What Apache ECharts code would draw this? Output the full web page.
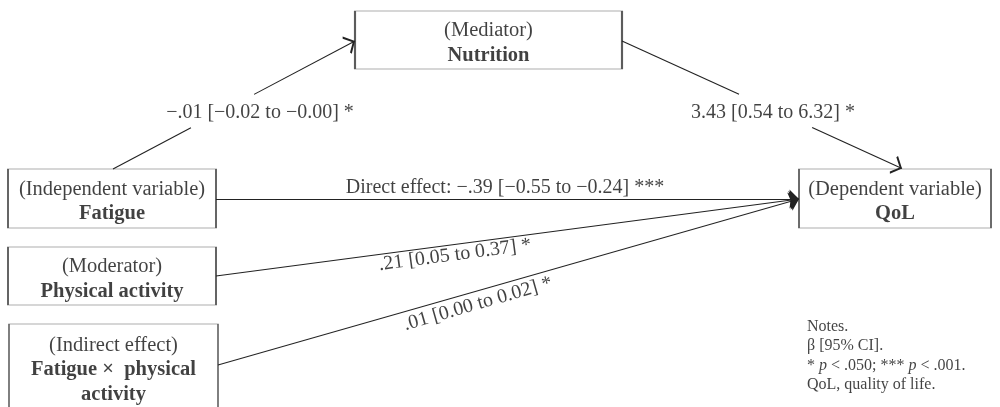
<!DOCTYPE html>
<html><head><meta charset="utf-8">
<script src="https://cdn.jsdelivr.net/npm/echarts@6/dist/echarts.min.js"></script>
<style>html,body{margin:0;padding:0;background:#fff}#c{width:1000px;height:407px}</style>
</head><body><div id="c"></div>
<script>
// ---- content ----
const nodeRoles = ['(Mediator)', '(Independent variable)', '(Moderator)', '(Indirect effect)', '(Dependent variable)'];
const nodeNames = [['Nutrition'], ['Fatigue'], ['Physical activity'], ['Fatigue \u00d7  physical', 'activity'], ['QoL']];
const pathLabels = [
  '\u2212.01 [\u22120.02 to \u22120.00] *',
  '3.43 [0.54 to 6.32] *',
  'Direct effect: \u2212.39 [\u22120.55 to \u22120.24] ***',
  '.21 [0.05 to 0.37] *',
  '.01 [0.00 to 0.02] *'
];
const noteLines = ['Notes.', '\u03b2 [95% CI].', '* {i|p} < .050; *** {i|p} < .001.', 'QoL, quality of life.'];

// ---- layout (axis units == pixels) ----
const boxLayout = [
  [488.5, 40, 267, 58],
  [112, 198.5, 208, 59],
  [112, 276, 208, 58],
  [113.5, 367, 209, 86],
  [895, 198.5, 192, 59]
];
// gap = fraction range along the path left blank for the label
const pathLayout = [
  { from: [113, 169], to: [355, 41], open: true, label: [260, 113], rot: 0, gap: [0.322, 0.583] },
  { from: [622, 41], to: [902, 168.5], open: true, label: [773, 113], rot: 0, gap: [0.418, 0.679] },
  { from: [216, 199], to: [799, 199], open: false, label: [505, 188], rot: 0, gap: null },
  { from: [216, 276], to: [799, 199], open: false, label: [455, 255], rot: 7.5, gap: null },
  { from: [218, 365], to: [799, 199], open: false, label: [478, 304], rot: 16, gap: null }
];
const notePos = [807, 356];

const FONT = 'Liberation Serif';
const TXT = '#111';
const LINE = '#222';

// arrow paths: tip at the vertical centre of the bounding box (zero-length mirror point)
const openArrow = 'path://M5,0 L10,8 L9,8.9 L5,2.3 L1,8.9 L0,8 Z M5,-8.9 L5,-8.9';
const solidArrow = 'path://M4,0 L8,12 L4,10.5 L0,12 Z M4,-12 L4,-12';

const boxData = boxLayout.map((b, i) => {
  const lines = ['{r|' + nodeRoles[i] + '}'].concat(nodeNames[i].map(n => '{b|' + n + '}'));
  return { value: [b[0], b[1]], symbolSize: [b[2], b[3]], label: { formatter: lines.join('\n') } };
});

const along = (p, t) => [p.from[0] + (p.to[0] - p.from[0]) * t, p.from[1] + (p.to[1] - p.from[1]) * t];
const plainLines = [], openLines = [], solidLines = [];
pathLayout.forEach(p => {
  const headList = p.open ? openLines : solidLines;
  if (p.gap) {
    plainLines.push({ coords: [p.from, along(p, p.gap[0])] });
    headList.push({ coords: [along(p, p.gap[1]), p.to] });
  } else {
    headList.push({ coords: [p.from, p.to] });
  }
});

const labelData = pathLayout.map((p, i) => ({
  value: p.label,
  label: { formatter: pathLabels[i], rotate: p.rot }
}));

const lineBase = {
  type: 'lines', coordinateSystem: 'cartesian2d', z: 5, silent: true,
  lineStyle: { color: LINE, width: 1.1, opacity: 1 },
  itemStyle: { color: LINE }
};

const chart = echarts.init(document.getElementById('c'), null, { renderer: 'canvas' });
chart.setOption({
  backgroundColor: '#fff',
  animation: false,
  grid: { left: 0, right: 0, top: 0, bottom: 0 },
  xAxis: { type: 'value', min: 0, max: 1000, show: false },
  yAxis: { type: 'value', min: 0, max: 407, inverse: true, show: false },
  series: [
    Object.assign({}, lineBase, { symbol: ['none', 'none'], data: plainLines }),
    Object.assign({}, lineBase, { symbol: ['none', openArrow], symbolSize: [11, 19.6], data: openLines }),
    Object.assign({}, lineBase, { symbol: ['none', solidArrow], symbolSize: [6.5, 19], data: solidLines }),
    {
      type: 'scatter', z: 3, symbol: 'rect', silent: true,
      itemStyle: { color: '#fff', borderColor: '#333', borderWidth: 1 },
      label: {
        show: true, position: 'inside', offset: [0, 3],
        rich: {
          r: { fontFamily: FONT, fontSize: 20.5, color: TXT, lineHeight: 24.5, align: 'center' },
          b: { fontFamily: FONT, fontSize: 20.5, fontWeight: 'bold', color: TXT, lineHeight: 24.5, align: 'center' }
        }
      },
      data: boxData
    },
    {
      type: 'scatter', z: 4, symbolSize: 1, silent: true,
      itemStyle: { color: 'rgba(0,0,0,0)' },
      label: {
        show: true, position: 'inside', fontFamily: FONT, fontSize: 20, color: TXT, lineHeight: 20
      },
      data: labelData
    },
    {
      type: 'scatter', z: 4, symbolSize: 1, silent: true,
      itemStyle: { color: 'rgba(0,0,0,0)' },
      label: {
        show: true, position: 'inside', align: 'left', verticalAlign: 'middle',
        fontFamily: FONT, fontSize: 16, color: TXT, lineHeight: 19.5,
        formatter: noteLines.join('\n'),
        rich: { i: { fontFamily: FONT, fontSize: 16, fontStyle: 'italic', color: TXT, lineHeight: 19.5 } }
      },
      data: [notePos]
    }
  ]
});
</script></body></html>
